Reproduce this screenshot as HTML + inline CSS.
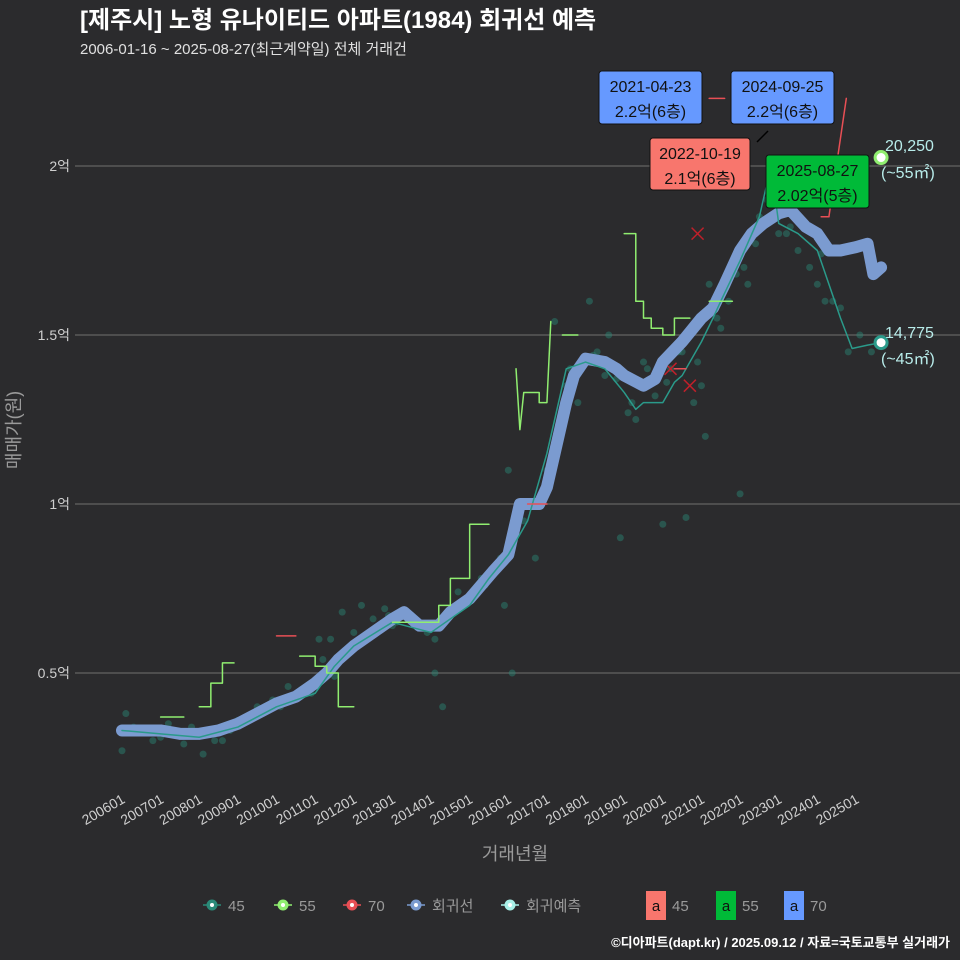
<!DOCTYPE html>
<html><head><meta charset="utf-8">
<style>
body{margin:0;background:#2b2b2d;}
svg{display:block;font-family:"Liberation Sans","Noto Sans CJK KR",sans-serif;}
</style></head>
<body>
<svg id="chart" width="960" height="960" xmlns="http://www.w3.org/2000/svg">
<rect x="0" y="0" width="960" height="960" fill="#2b2b2d"/>
<text x="80" y="28" fill="#ffffff" font-size="24" font-weight="bold">[제주시] 노형 유나이티드 아파트(1984) 회귀선 예측</text>
<text x="80" y="54" fill="#e0e0e0" font-size="15">2006-01-16 ~ 2025-08-27(최근계약일) 전체 거래건</text>
<g id="grid"></g>
<g id="yaxis"></g>
<g id="xaxis"></g>
<g id="marks"></g>
<text x="0" y="0" transform="translate(20,430) rotate(-90)" text-anchor="middle" fill="#9a9a9a" font-size="18">매매가(원)</text>
<text x="515" y="860" text-anchor="middle" fill="#9a9a9a" font-size="18">거래년월</text>
<g id="legend"></g>
<text x="950" y="947" text-anchor="end" fill="#ffffff" font-size="13" font-weight="bold">©디아파트(dapt.kr) / 2025.09.12 / 자료=국토교통부 실거래가</text>
</svg>
<script>
const yTicks=[0.5,1,1.5,2];
const yTickLabels=["0.5억","1억","1.5억","2억"];
const xTickYears=[2006,2007,2008,2009,2010,2011,2012,2013,2014,2015,2016,2017,2018,2019,2020,2021,2022,2023,2024,2025];
const xTickLabels=["200601","200701","200801","200901","201001","201101","201201","201301","201401","201501","201601","201701","201801","201901","202001","202101","202201","202301","202401","202501"];
const regT=[2006,2006.5,2007,2007.5,2008,2008.5,2009,2009.5,2010,2010.5,2011,2011.3,2011.6,2012,2012.5,2013,2013.3,2013.7,2014.2,2014.5,2015,2015.3,2015.6,2016,2016.2,2016.3,2016.8,2017,2017.3,2017.5,2017.7,2018,2018.5,2018.8,2019,2019.5,2019.8,2020,2020.5,2021,2021.3,2021.6,2022,2022.3,2022.6,2023,2023.3,2023.7,2024,2024.3,2024.6,2025,2025.3,2025.45,2025.65];
const regV=[0.33,0.33,0.33,0.32,0.32,0.33,0.35,0.38,0.41,0.43,0.47,0.50,0.54,0.58,0.62,0.66,0.68,0.64,0.64,0.68,0.72,0.76,0.80,0.85,0.95,1.0,1.0,1.05,1.2,1.30,1.38,1.43,1.42,1.40,1.38,1.35,1.37,1.42,1.48,1.55,1.58,1.65,1.75,1.80,1.83,1.86,1.87,1.82,1.80,1.75,1.75,1.76,1.77,1.68,1.70];
const s45T=[2006,2007,2008,2009,2010,2011,2011.5,2012,2013,2014,2015,2015.5,2016,2016.5,2017,2017.3,2017.5,2018,2018.5,2019,2019.3,2019.5,2020,2020.3,2020.5,2021,2021.3,2021.5,2022,2022.5,2022.8,2023,2023.5,2024,2024.3,2024.6,2024.9,2025.3,2025.65];
const s45V=[0.33,0.32,0.31,0.34,0.40,0.44,0.52,0.58,0.65,0.62,0.70,0.78,0.85,0.95,1.15,1.30,1.40,1.42,1.40,1.33,1.28,1.30,1.30,1.36,1.38,1.48,1.55,1.60,1.72,1.85,2.0,1.83,1.80,1.75,1.65,1.55,1.46,1.47,1.4775];
const s55Segs=[
 [[2007,0.37],[2007.6,0.37]],
 [[2008,0.40],[2008.3,0.40],[2008.3,0.47],[2008.6,0.47],[2008.6,0.53],[2008.9,0.53]],
 [[2010.6,0.55],[2011,0.55],[2011,0.52],[2011.3,0.52],[2011.3,0.50],[2011.6,0.50],[2011.6,0.40],[2012,0.40]],
 [[2013,0.65],[2014.2,0.65],[2014.2,0.70],[2014.5,0.70],[2014.5,0.78],[2015,0.78],[2015,0.94],[2015.5,0.94]],
 [[2016.2,1.40],[2016.3,1.22],[2016.4,1.33],[2016.8,1.33],[2016.8,1.30],[2017,1.30],[2017.1,1.54]],
 [[2017.4,1.50],[2017.8,1.50]],
 [[2019,1.80],[2019.3,1.80],[2019.3,1.60],[2019.5,1.60],[2019.5,1.55],[2019.7,1.55],[2019.7,1.52],[2020,1.52],[2020,1.50],[2020.3,1.50],[2020.3,1.55],[2020.7,1.55]],
 [[2021.2,1.60],[2021.8,1.60]]
];
const s70Segs=[
 [[2010,0.61],[2010.5,0.61]],
 [[2016.5,1.0],[2017,1.0]],
 [[2020.3,1.40],[2020.6,1.40]],
 [[2021.2,2.2],[2021.6,2.2]],
 [[2024.1,1.85],[2024.3,1.85]],
 [[2024.3,1.85],[2024.75,2.2]]
];
const scatT=[2006,2006.1,2006.5,2006.8,2007.2,2007.6,2008.1,2008.4,2008.8,2009.2,2009.5,2009.9,2010.3,2010.6,2010.9,2011.2,2011.4,2011.7,2012,2012.2,2012.5,2012.8,2013.1,2013.5,2013.9,2014.1,2014.3,2014.7,2015,2015.3,2015.6,2015.9,2016.1,2016.4,2016.7,2017,2017.3,2017.5,2017.8,2018.1,2018.3,2018.6,2018.9,2019.2,2019.5,2019.8,2020,2020.2,2020.4,2020.6,2020.8,2021,2021.1,2021.4,2021.7,2022,2022.2,2022.5,2022.7,2023,2023.2,2023.5,2023.8,2024,2024.2,2024.6,2024.8,2025.1,2025.4,2011.1,2013,2014.1,2016,2017.2,2018.5,2019.3,2020.5,2021.2,2022.1,2023.3,2024.4,2006.3,2007,2007.8,2008.6,2009,2009.7,2010.1,2010.8,2011.5,2011.9,2012.3,2012.9,2013.6,2014.4,2014.9,2015.4,2015.8,2016.9,2017.6,2018.2,2018.8,2019.1,2019.6,2020.1,2020.9,2021.5,2021.9,2022.4,2022.9,2023.6,2024.1];
const scatV=[0.27,0.38,0.33,0.30,0.35,0.29,0.26,0.30,0.33,0.37,0.40,0.42,0.46,0.43,0.44,0.54,0.60,0.68,0.62,0.70,0.66,0.69,0.65,0.67,0.62,0.50,0.40,0.74,0.73,0.78,0.80,0.70,0.50,0.95,0.84,1.10,1.20,1.35,1.30,1.60,1.45,1.50,0.90,1.30,1.42,1.32,0.94,1.40,1.45,0.96,1.30,1.35,1.20,1.55,1.60,1.03,1.65,1.85,1.90,1.80,1.80,1.75,1.70,1.65,1.60,1.58,1.45,1.50,1.45,0.60,0.64,0.60,1.10,1.54,1.38,1.25,1.45,1.65,1.70,1.82,1.60,0.34,0.31,0.34,0.30,0.36,0.39,0.40,0.45,0.49,0.57,0.60,0.67,0.64,0.66,0.72,0.76,0.84,1.02,1.40,1.44,1.37,1.27,1.40,1.36,1.42,1.52,1.68,1.77,1.95,1.84,1.74];
const crossT=[2020.9,2020.2,2020.7];
const crossV=[1.80,1.40,1.35];

const NS="http://www.w3.org/2000/svg";
function X(t){return 122+(t-2006)*38.63;}
function Y(v){return 504-(v-1)*338;}
function el(tag,attrs,parent){const e=document.createElementNS(NS,tag);for(const k in attrs)e.setAttribute(k,attrs[k]);parent.appendChild(e);return e;}
const grid=document.getElementById('grid'),yax=document.getElementById('yaxis'),xax=document.getElementById('xaxis'),marks=document.getElementById('marks'),leg=document.getElementById('legend');
yTicks.forEach((v,i)=>{
 const l=el('line',{x1:75,x2:960,y1:Y(v),y2:Y(v),stroke:'#5a5a5a','stroke-width':1.5},grid);
 
 
 const t=el('text',{x:70,y:Y(v)+5,'text-anchor':'end',fill:'#cfcfcf','font-size':14},yax);
 t.textContent=yTickLabels[i];
 
 
});
xTickYears.forEach((yr,i)=>{
 const x=X(yr)+4;
 const t=el('text',{x:x,y:802,'text-anchor':'end',fill:'#cfcfcf','font-size':14,transform:`rotate(-30 ${x} 802)`},xax);
 t.textContent=xTickLabels[i];
 
 
});
function poly(pts,color,w,name){
 const p=el('polyline',{points:pts.map(q=>X(q[0])+','+Y(q[1])).join(' '),fill:'none',stroke:color,'stroke-width':w,'stroke-linejoin':'round','stroke-linecap':'round'},marks);
 
 
 return p;
}
scatT.forEach((t,i)=>{
 const c=el('circle',{cx:X(t),cy:Y(scatV[i]),r:3.5,fill:'#2a8a78','fill-opacity':0.45},marks);
 
 
});
crossT.forEach((t,i)=>{
 const x=X(t),y=Y(crossV[i]);
 const p=el('path',{d:`M${x-6},${y-6}L${x+6},${y+6}M${x+6},${y-6}L${x-6},${y+6}`,stroke:'#c0202a','stroke-width':1.5},marks);
 
 
});
poly(regT.map((t,i)=>[t,regV[i]]),'#7b9bd0',12,'regression-line');
poly(s45T.map((t,i)=>[t,s45V[i]]),'#2a9a8a',1.5,'series-45-line');
s55Segs.forEach(s=>poly(s,'#90ee70',1.5,'series-55-line'));
s70Segs.forEach(s=>poly(s,'#e84f55',1.5,'series-70-line'));
const e1=el('circle',{cx:X(2025.65),cy:Y(1.4775),r:6,fill:'#ffffff',stroke:'#2a9a8a','stroke-width':3},marks);


const e2=el('circle',{cx:X(2025.65),cy:Y(2.025),r:6,fill:'#ffffff',stroke:'#90ee70','stroke-width':3},marks);


const leader=el('line',{x1:757,y1:142,x2:768,y2:131,stroke:'#000','stroke-width':1.5},marks);


function box(x,y,w,h,fill,l1,l2,name){
 const g=el('g',{},marks);
 
 
 el('rect',{x:x,y:y,width:w,height:h,rx:3,fill:fill,stroke:'#111','stroke-width':1},g);
 const a=el('text',{x:x+w/2,y:y+21,'text-anchor':'middle',fill:'#111','font-size':16},g);a.textContent=l1;
 const b=el('text',{x:x+w/2,y:y+46,'text-anchor':'middle',fill:'#111','font-size':16},g);b.textContent=l2;
}
box(599,71,103,53,'#6699ff','2021-04-23','2.2억(6층)','annotation-2021');
box(731,71,103,53,'#6699ff','2024-09-25','2.2억(6층)','annotation-2024');
box(650,138,100,52,'#f8766d','2022-10-19','2.1억(6층)','annotation-2022');
box(766,155,103,53,'#00ba38','2025-08-27','2.02억(5층)','annotation-2025');
[['20,250',151],['(~55㎡)',178],['14,775',338],['(~45㎡)',364]].forEach(q=>{
 const t=el('text',{x:q[0].startsWith('(')?881:885,y:q[1],fill:'#b8ecea','font-size':16},marks);
 t.textContent=q[0];
 
 
});
const legItems=[[212,'#2a8a78','45'],[283,'#90ee70','55'],[352,'#e84f55','70'],[416,'#7b9bd0','회귀선'],[510,'#a8f0e8','회귀예측']];
legItems.forEach(q=>{
 const g=el('g',{},leg);
 
 
 el('line',{x1:q[0]-9,x2:q[0]+9,y1:905,y2:905,stroke:q[1],'stroke-width':1.5},g);
 el('circle',{cx:q[0],cy:905,r:5.5,fill:q[1]},g);
 el('circle',{cx:q[0],cy:905,r:2,fill:'#fff'},g);
 const t=el('text',{x:q[0]+16,y:911,fill:'#9a9a9a','font-size':15},g);t.textContent=q[2];
});
[[646,'#f8766d','45'],[716,'#00ba38','55'],[784,'#6699ff','70']].forEach(q=>{
 const g=el('g',{},leg);
 
 
 el('rect',{x:q[0],y:891,width:20,height:29,fill:q[1]},g);
 const a=el('text',{x:q[0]+10,y:911,'text-anchor':'middle',fill:'#111','font-size':15},g);a.textContent='a';
 const t=el('text',{x:q[0]+26,y:911,fill:'#9a9a9a','font-size':15},g);t.textContent=q[2];
});
</script>
</body></html>
